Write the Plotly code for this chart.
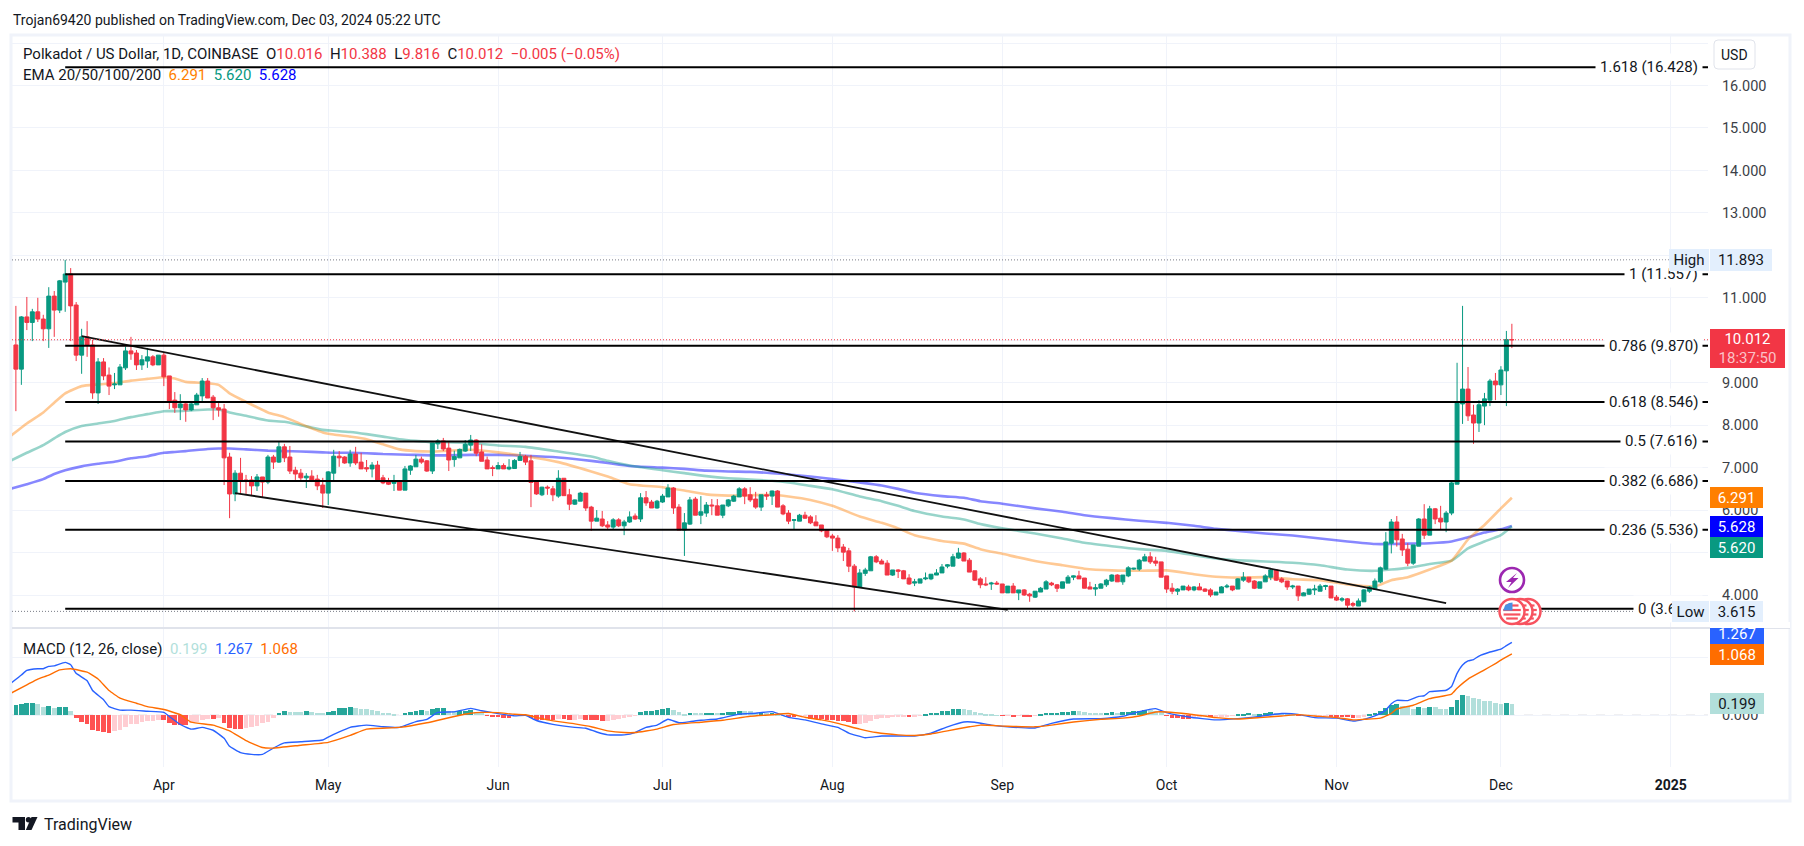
import pandas as pd
import plotly.graph_objects as go

FIRST_DAY = "2024-03-05"
opens = [
 9.89,9.32,10.55,10.42,10.67,10.50,10.27,11.04,10.71,11.37,
 11.56,10.83,9.65,10.08,9.89,8.76,9.49,9.18,8.95,8.95,
 9.35,9.75,9.70,9.42,9.51,9.61,9.42,9.65,9.16,8.59,
 8.41,8.50,8.36,8.48,8.69,9.04,8.66,8.41,8.38,7.25,
 6.38,6.87,6.71,6.71,6.57,6.78,6.66,7.25,7.13,7.49,
 7.25,6.94,6.87,6.76,6.80,6.73,6.59,6.40,6.87,7.27,
 7.25,7.11,7.32,7.13,7.0,6.97,7.06,6.76,6.66,6.63,
 6.66,6.47,6.94,7.02,7.20,7.16,6.92,7.56,7.63,7.46,
 7.19,7.23,7.39,7.53,7.65,7.37,7.18,7.0,6.97,7.05,
 6.97,6.98,7.17,7.26,7.16,6.66,6.36,6.54,6.50,6.33,
 6.75,6.36,6.14,6.21,6.40,6.07,5.74,5.79,5.65,5.60,
 5.77,5.63,5.72,5.86,5.79,6.29,6.19,6.05,6.19,6.31,
 6.52,6.07,5.53,5.67,6.26,5.88,5.93,6.12,6.10,5.88,
 6.10,6.21,6.31,6.50,6.36,6.26,6.07,6.36,6.33,6.45,
 6.10,5.93,5.76,5.74,5.88,5.84,5.72,5.65,5.53,5.39,
 5.34,5.13,5.04,4.68,4.19,4.51,4.57,4.90,4.80,4.75,
 4.47,4.59,
 4.57,4.40,4.28,4.28,4.38,4.38,4.47,4.52,4.68,4.68,
 4.87,4.99,4.82,4.57,4.38,4.26,4.26,4.28,4.26,4.05,
 4.21,4.05,4.12,4.02,3.95,4.07,4.14,4.28,4.24,4.16,
 4.28,4.42,4.45,4.40,4.19,4.14,4.16,4.24,4.33,4.47,
 4.31,4.45,4.61,4.61,4.80,4.90,4.80,4.78,4.45,4.16,
 4.09,4.12,4.19,4.12,4.19,4.14,4.12,4.0,4.05,4.19,
 4.21,4.14,4.35,4.42,4.33,4.16,4.31,4.42,4.59,4.38,
 4.33,4.19,4.21,3.98,4.02,4.12,4.09,4.20,4.21,3.95,
 3.88,3.91,
 3.80,3.74,3.84,4.09,4.14,4.31,4.61,5.22,5.72,5.32,
 5.08,4.75,5.15,5.79,5.41,6.03,5.81,5.72,5.93,6.61,
 8.50,8.85,8.24,8.05,8.45,8.59,9.04,8.95,9.28,10.016,
]
highs = [
 10.81,10.57,11.02,10.74,11.0,10.6,11.25,11.16,11.42,11.893,
 11.70,10.90,10.27,10.45,10.01,9.58,9.58,9.36,9.23,9.44,
 9.85,10.08,9.77,9.65,9.82,9.65,9.65,9.72,9.16,8.78,
 8.73,8.52,8.57,8.76,9.11,9.11,8.71,8.52,8.50,7.35,
 6.94,7.23,6.83,6.80,6.85,6.78,7.30,7.30,7.61,7.56,
 7.51,7.02,6.97,6.87,6.94,6.83,6.76,6.92,7.42,7.39,
 7.27,7.42,7.49,7.35,7.18,7.13,7.16,6.83,6.76,6.83,
 6.69,7.04,7.06,7.30,7.26,7.18,7.58,7.67,7.70,7.60,
 7.40,7.45,7.65,7.77,7.67,7.55,7.26,7.05,7.13,7.10,
 7.20,7.20,7.37,7.30,7.30,6.69,6.55,6.58,6.57,6.94,
 6.75,6.50,6.25,6.43,6.40,6.10,6.0,5.98,5.74,5.81,
 5.81,5.77,5.97,5.92,6.40,6.45,6.24,6.24,6.38,6.61,
 6.54,6.14,5.93,6.31,6.31,6.33,6.19,6.26,6.26,6.12,
 6.26,6.36,6.54,6.54,6.54,6.43,6.36,6.43,6.46,6.47,
 6.14,6.0,5.78,5.91,5.96,5.88,5.88,5.65,5.55,5.44,
 5.41,5.20,5.11,4.73,4.61,4.64,4.92,4.94,4.85,4.82,
 4.59,4.61,
 4.59,4.49,4.38,4.38,4.53,4.49,4.61,4.73,4.73,4.97,
 5.11,5.01,4.87,4.57,4.42,4.42,4.31,4.33,4.26,4.21,
 4.28,4.12,4.14,4.05,4.09,4.19,4.35,4.31,4.26,4.31,
 4.47,4.46,4.57,4.40,4.31,4.26,4.28,4.38,4.49,4.49,
 4.47,4.68,4.64,4.85,4.97,5.01,4.90,4.78,4.45,4.28,
 4.16,4.21,4.24,4.21,4.28,4.16,4.16,4.07,4.21,4.26,
 4.21,4.40,4.54,4.42,4.35,4.31,4.49,4.61,4.61,4.42,
 4.33,4.24,4.21,4.07,4.14,4.24,4.26,4.24,4.21,4.0,
 3.95,3.93,
 3.84,3.92,4.14,4.21,4.39,4.67,5.48,5.79,5.86,5.44,
 5.22,5.18,5.81,6.14,6.10,6.05,6.10,5.98,6.69,9.47,
 10.81,9.37,8.48,8.59,8.76,9.09,9.23,9.39,10.22,10.388,
]
lows = [
 8.33,8.95,10.24,9.98,10.43,9.98,9.82,10.08,10.64,10.67,
 9.98,9.51,9.21,9.61,8.62,8.50,9.06,8.71,8.85,8.95,
 9.30,9.54,9.30,9.30,9.35,9.39,9.42,8.92,8.38,8.29,
 8.12,8.08,8.33,8.48,8.57,8.64,8.12,8.20,6.59,5.81,
 6.21,6.38,6.38,6.33,6.45,6.29,6.61,6.97,7.11,7.13,
 6.85,6.71,6.71,6.52,6.66,6.47,6.05,6.12,6.69,7.02,
 7.09,7.02,7.06,6.97,6.90,6.77,6.71,6.61,6.59,6.45,
 6.47,6.47,6.83,7.02,7.09,6.90,6.85,7.44,7.39,6.92,
 7.02,7.23,7.37,7.39,7.27,7.15,6.97,6.80,6.97,6.97,
 6.94,6.98,7.17,7.06,6.07,6.36,6.33,6.36,6.21,6.29,
 6.34,6.0,6.12,6.21,5.98,5.51,5.74,5.60,5.55,5.55,
 5.60,5.41,5.70,5.77,5.72,6.10,6.05,6.03,6.17,6.31,
 5.91,5.53,4.92,5.65,5.88,5.67,5.84,5.88,5.88,5.81,
 6.07,6.19,6.31,6.14,6.19,6.03,5.98,6.24,6.12,6.07,
 5.88,5.67,5.55,5.74,5.79,5.67,5.63,5.48,5.34,5.04,
 5.01,4.80,4.54,3.615,4.19,4.45,4.57,4.75,4.73,4.47,
 4.45,4.40,
 4.38,4.24,4.21,4.28,4.35,4.35,4.47,4.52,4.63,4.68,
 4.85,4.80,4.54,4.33,4.16,4.21,4.12,4.24,4.05,4.05,
 4.05,3.88,3.98,3.84,3.93,4.07,4.14,4.21,4.07,4.16,
 4.28,4.35,4.38,4.16,4.14,3.98,4.16,4.19,4.31,4.31,
 4.24,4.42,4.59,4.57,4.80,4.73,4.68,4.42,4.05,4.02,
 4.0,4.12,4.09,4.09,4.12,4.07,3.95,4.0,4.05,4.16,
 4.09,4.14,4.31,4.28,4.14,4.16,4.31,4.35,4.33,4.28,
 4.12,4.14,3.86,3.98,4.0,4.0,4.09,4.12,3.93,3.86,
 3.84,3.67,
 3.71,3.74,3.84,4.05,4.12,4.28,4.59,4.98,5.14,4.92,
 4.68,4.71,5.15,5.32,5.41,5.67,5.55,5.48,5.88,6.61,
 8.03,8.10,7.56,7.84,8.0,8.45,8.59,8.71,8.45,9.816,
]
closes = [
 9.32,10.55,10.42,10.67,10.50,10.27,11.04,10.71,11.40,11.56,
 10.81,9.65,10.08,9.89,8.76,9.49,9.16,8.92,8.97,9.37,
 9.75,9.68,9.42,9.54,9.61,9.42,9.65,9.14,8.57,8.41,
 8.50,8.36,8.50,8.71,9.04,8.64,8.41,8.36,7.23,6.38,
 6.87,6.69,6.69,6.57,6.78,6.66,7.25,7.13,7.49,7.23,
 6.92,6.85,6.76,6.80,6.71,6.57,6.40,6.90,7.27,7.23,
 7.11,7.32,7.11,6.97,6.97,7.06,6.71,6.64,6.61,6.69,
 6.47,6.97,7.04,7.20,7.13,6.92,7.58,7.63,7.44,7.18,
 7.26,7.43,7.55,7.65,7.34,7.15,6.97,6.98,7.05,6.97,
 7.01,7.17,7.26,7.13,6.65,6.38,6.54,6.52,6.36,6.75,
 6.34,6.14,6.24,6.40,6.05,5.74,5.81,5.63,5.60,5.77,
 5.63,5.72,5.84,5.79,6.29,6.17,6.05,6.21,6.33,6.52,
 6.05,5.53,5.70,6.24,5.88,5.96,6.12,6.10,5.88,6.12,
 6.24,6.33,6.50,6.33,6.24,6.07,6.36,6.33,6.45,6.07,
 5.91,5.74,5.77,5.88,5.81,5.70,5.63,5.51,5.37,5.34,
 5.11,5.01,4.68,4.19,4.52,4.59,4.90,4.78,4.73,4.47,
 4.59,4.56,
 4.38,4.26,4.31,4.38,4.40,4.49,4.52,4.66,4.71,4.90,
 4.99,4.80,4.54,4.35,4.24,4.24,4.28,4.26,4.05,4.21,
 4.05,4.12,4.0,3.98,4.09,4.16,4.31,4.24,4.16,4.31,
 4.42,4.45,4.38,4.16,4.14,4.17,4.26,4.35,4.47,4.31,
 4.47,4.64,4.63,4.82,4.90,4.78,4.75,4.42,4.14,4.09,
 4.14,4.21,4.12,4.19,4.12,4.09,4.0,4.07,4.19,4.21,
 4.12,4.38,4.42,4.31,4.16,4.31,4.45,4.59,4.35,4.31,
 4.19,4.21,3.98,4.05,4.14,4.14,4.21,4.22,3.93,3.88,
 3.91,3.76,
 3.76,3.86,4.12,4.19,4.33,4.64,5.25,5.72,5.30,5.06,
 4.75,5.18,5.79,5.41,6.03,5.79,5.72,5.93,6.64,8.52,
 8.85,8.22,8.05,8.48,8.62,9.04,8.95,9.30,10.016,10.012,
]
macd_hist = [
 .18,.20,.21,.215,.19,.145,.16,.13,.145,.15,
 .075,-.05,-.12,-.15,-.26,-.27,-.29,-.31,-.27,-.255,
 -.21,-.15,-.15,-.116,-.10,-.10,-.08,-.09,-.13,-.16,
 -.17,-.175,-.13,-.11,-.08,-.06,-.07,-.05,-.14,-.22,
 -.24,-.245,-.22,-.20,-.19,-.14,-.115,-.05,.046,.075,
 .06,.06,.06,.07,.05,.046,.04,.06,.08,.13,
 .135,.145,.13,.11,.11,.09,.075,.046,.04,.02,
 0,.04,.06,.075,.09,.075,.11,.12,.13,.075,
 .07,.075,.08,.09,.05,.035,-.006,-.025,-.03,-.04,
 -.045,-.003,-.002,-.005,-.05,-.08,-.085,-.088,-.09,-.07,
 -.072,-.08,-.078,-.07,-.075,-.08,-.082,-.10,-.098,-.08,
 -.065,-.04,-.02,-.006,.06,.075,.076,.09,.11,.13,
 .09,.06,.02,.04,.04,.035,.04,.042,.04,.042,
 .06,.062,.075,.07,.07,.04,.06,.035,.045,.02,
 .005,-.02,-.035,-.01,-.01,-.065,-.066,-.068,-.08,-.082,
 -.10,-.102,-.116,-.15,-.148,-.13,-.10,-.065,-.045,-.045,
 -.03,-.03,
 -.03,-.032,-.03,-.005,.025,.04,.041,.075,.076,.11,
 .112,.11,.09,.06,.04,.02,.02,.005,-.005,-.002,
 -.03,-.005,-.03,-.032,-.005,.025,.04,.041,.042,.06,
 .061,.075,.074,.06,.04,.04,.04,.042,.06,.04,
 .06,.062,.075,.076,.09,.09,.08,.06,-.006,-.045,
 -.046,-.065,-.066,-.03,-.02,-.01,-.035,-.025,-.025,-.025,
 -.01,.025,.026,.04,.025,.026,.04,.06,.035,.035,
 .015,.005,-.005,-.004,-.002,-.002,-.002,-.002,-.03,-.031,
 -.032,-.033,
 -.045,-.044,-.03,.025,.04,.075,.13,.18,.20,.16,
 .145,.11,.145,.13,.145,.14,.11,.11,.145,.27,
 .35,.335,.30,.285,.25,.25,.215,.20,.215,.199,
]
assert len(opens) == len(highs) == len(lows) == len(closes) == 274, (len(opens), len(highs), len(lows), len(closes))
assert len(macd_hist) == 274, len(macd_hist)

ema_dates = ["03-04","03-07","03-10","03-12","03-14","03-17","03-20","03-23","03-26","03-29","04-01","04-03","04-05","04-09","04-11","04-13","04-16","04-20","04-23","04-26","04-30","05-02","05-05","05-08","05-11","05-14","05-17","05-20","05-23",
 "05-27","06-01","06-06","06-12","06-18","06-21","06-25","07-01","07-05","07-09","07-13","07-17","07-21","07-24","07-28","08-01","08-06","08-10","08-13",
 "08-16","08-21","08-25","08-28","09-01","09-07","09-12","09-16","09-21","09-26","10-01","10-06","10-10","10-14","10-19","10-24","10-29","11-03",
 "11-08","11-11","11-14","11-18","11-22","11-25","11-28","12-01","12-03"]
ema20 = [7.74,8.04,8.30,8.53,8.75,8.92,8.96,8.99,9.05,9.09,9.13,9.10,9.02,8.99,8.95,8.75,8.55,8.30,8.19,8.03,7.83,7.78,7.73,7.67,7.55,7.43,7.39,7.38,7.40,
 7.42,7.36,7.27,7.13,6.91,6.79,6.61,6.54,6.46,6.37,6.34,6.35,6.36,6.32,6.24,6.10,5.85,5.70,5.57,
 5.41,5.27,5.21,5.08,4.97,4.80,4.70,4.62,4.58,4.57,4.58,4.49,4.43,4.41,4.42,4.37,4.35,4.25,
 4.20,4.35,4.42,4.60,4.81,5.31,5.65,6.04,6.291]
ema50 = [7.16,7.35,7.53,7.69,7.84,7.98,8.04,8.10,8.19,8.26,8.33,8.33,8.34,8.37,8.37,8.30,8.22,8.11,8.08,8.0,7.89,7.87,7.84,7.79,7.73,7.67,7.63,7.60,7.60,
 7.58,7.52,7.49,7.38,7.26,7.16,7.05,6.94,6.87,6.80,6.75,6.72,6.69,6.65,6.57,6.49,6.32,6.21,6.10,
 5.98,5.85,5.78,5.67,5.57,5.45,5.33,5.23,5.15,5.08,5.04,4.94,4.86,4.82,4.79,4.76,4.70,4.60,
 4.57,4.60,4.64,4.73,4.81,5.10,5.26,5.41,5.62]
ema200 = [6.50,6.61,6.73,6.85,6.94,7.03,7.09,7.14,7.22,7.27,7.35,7.37,7.39,7.44,7.45,7.45,7.43,7.40,7.39,7.38,7.36,7.35,7.35,7.34,7.32,7.31,7.30,7.29,7.29,
 7.30,7.30,7.28,7.24,7.16,7.11,7.04,7.0,6.97,6.93,6.91,6.90,6.87,6.84,6.79,6.73,6.65,6.58,6.50,
 6.41,6.33,6.29,6.21,6.15,6.04,5.96,5.88,5.81,5.75,5.70,5.63,5.56,5.51,5.45,5.40,5.33,5.26,
 5.20,5.20,5.21,5.22,5.26,5.36,5.47,5.55,5.628]

macd_dates = ["03-04","03-06","03-07","03-09","03-10","03-11","03-12","03-14","03-15","03-16","03-18","03-19","03-21","03-22","03-24","03-26","03-29","04-01","04-02","04-04","04-06","04-08","04-10","04-12","04-13","04-15","04-17","04-19","04-21","04-23","04-26","04-30","05-01","05-03","05-05","05-08","05-11","05-14","05-17","05-19","05-21","05-24","05-27","05-29","06-01","06-04","06-06","06-08","06-11","06-15","06-17","06-19","06-21","06-24","06-26","06-28","06-30","07-02","07-04","07-06","07-08","07-11","07-15","07-18","07-21","07-24","07-27","07-30","08-02","08-04","08-07","08-10","08-13","08-16","08-19","08-22","08-25","08-27","08-30","09-02","09-07","09-10","09-14","09-19","09-23","09-26","09-29","10-01","10-05","10-10","10-14","10-18","10-22","10-25","10-28","11-01","11-04","11-06","11-08","11-10","11-11","11-12","11-14","11-16","11-17","11-18","11-21","11-22","11-23","11-24","11-25","11-26","11-27","11-29","12-01","12-02","12-03"]
macd_line = [.55,.70,.78,.81,.81,.85,.86,.92,.88,.73,.60,.43,.27,.15,.09,.09,.07,.05,-.02,-.16,-.24,-.21,-.26,-.40,-.54,-.65,-.68,-.68,-.57,-.48,-.46,-.43,-.38,-.29,-.21,-.17,-.20,-.21,-.11,-.07,.05,.06,.12,.08,.03,-.01,0,-.09,-.157,-.21,-.226,-.29,-.34,-.34,-.30,-.21,-.17,-.07,-.13,-.11,-.087,-.064,.02,.035,.064,-.035,-.08,-.15,-.21,-.31,-.39,-.36,-.36,-.36,-.31,-.20,-.116,-.12,-.17,-.20,-.22,-.14,-.064,-.058,-.017,.064,.116,.046,-.03,-.08,-.058,-.02,.03,.017,-.04,-.05,-.10,-.07,-.01,.09,.20,.26,.255,.33,.34,.41,.435,.50,.73,.875,.945,.97,1.03,1.10,1.15,1.21,1.267]
signal_dates = ["03-04","03-07","03-09","03-11","03-13","03-15","03-18","03-20","03-22","03-24","03-27","03-29","04-01","04-04","04-06","04-10","04-13","04-16","04-19","04-21","04-26","05-01","05-05","05-08","05-14","05-19","05-24","05-27","05-29","06-01","06-04","06-06","06-10","06-15","06-18","06-21","06-24","06-26","06-30","07-03","07-08","07-12","07-17","07-21","07-24","07-27","07-30","08-02","08-06","08-09","08-13","08-16","08-19","08-22","08-26","08-28","09-02","09-07","09-10","09-14","09-19","09-23","09-26","09-29","10-01","10-05","10-10","10-14","10-18","10-22","10-25","10-28","11-01","11-04","11-06","11-09","11-11","11-12","11-15","11-18","11-22","11-23","11-25","11-28","11-30","12-01","12-03"]
signal_line = [.38,.53,.63,.70,.79,.81,.75,.63,.43,.30,.21,.15,.10,.01,-.12,-.17,-.27,-.44,-.56,-.57,-.52,-.47,-.35,-.24,-.21,-.13,-.02,.035,.05,.046,.017,.01,-.08,-.15,-.20,-.27,-.30,-.30,-.24,-.16,-.12,-.087,-.017,.01,.03,-.035,-.08,-.14,-.24,-.30,-.34,-.35,-.325,-.27,-.20,-.17,-.19,-.20,-.17,-.116,-.07,-.05,-.012,.058,.058,.023,-.04,-.064,-.04,-.012,.012,-.012,-.04,-.08,-.07,-.05,.035,.11,.175,.29,.37,.47,.63,.79,.90,.96,1.068]

fib_ratios = ["1.618","1","0.786","0.618","0.5","0.382","0.236","0"]
fib_prices = [16.428,11.557,9.870,8.546,7.616,6.686,5.536,3.674]
fib_start = "2024-03-14"
upper_dates, upper_prices = ["2024-03-17","2024-11-21"], [10.10,3.81]
lower_dates, lower_prices = ["2024-04-14","2024-09-02"], [6.40,3.65]
month_ticks = ["2024-04-01","2024-05-01","2024-06-01","2024-07-01","2024-08-01","2024-09-01","2024-10-01","2024-11-01","2024-12-01","2025-01-01"]
month_labels = ["Apr","May","Jun","Jul","Aug","Sep","Oct","Nov","Dec","<b>2025</b>"]
price_ticks = [17,16,15,14,13,12,11,10,9,8,7,6,5,4]
price_labels = ["","16.000","15.000","14.000","13.000","","11.000","","9.000","8.000","7.000","6.000","","4.000"]
high_price, low_price, last_price = 11.893, 3.615, 10.012

W, H = 1804, 846
FONT = "Roboto"
INK = "#131722"
GRID = "#f0f3fa"
UP, DOWN = "#089981", "#f23645"
px = lambda v: v / W
py = lambda v: 1 - v / H

days = pd.date_range(FIRST_DAY, periods=len(opens), freq="D")
XR = ["2024-03-04 07:00", "2025-01-07 19:00"]
YR = [3.223, 17.19]
YR2 = [-0.899, 1.518]

hist_colors = []
prev = 0.15
for v in macd_hist:
    if v >= 0:
        hist_colors.append("#26a69a" if v > prev else "#b2dfdb")
    else:
        hist_colors.append("#ff5252" if v < prev else "#ffcdd2")
    prev = v

full = lambda ds: ["2024-" + d for d in ds]
fig = go.Figure()
for vals, col in [(ema200, "rgba(0,0,255,0.47)"), (ema50, "rgba(8,153,129,0.42)"), (ema20, "rgba(255,127,0,0.42)")]:
    fig.add_trace(go.Scatter(x=full(ema_dates), y=vals, mode="lines", xaxis="x", yaxis="y",
                             line=dict(color=col, width=2.6, shape="spline", smoothing=0.5), hoverinfo="skip"))
fig.add_trace(go.Candlestick(x=days, open=opens, high=highs, low=lows, close=closes, xaxis="x", yaxis="y3",
                             increasing=dict(line=dict(color=UP, width=1), fillcolor=UP),
                             decreasing=dict(line=dict(color=DOWN, width=1), fillcolor=DOWN),
                             whiskerwidth=0, hoverinfo="skip"))
for ds, vals in [(upper_dates, upper_prices), (lower_dates, lower_prices)]:
    fig.add_trace(go.Scatter(x=ds, y=vals, mode="lines", xaxis="x", yaxis="y3",
                             line=dict(color="#111111", width=1.8), hoverinfo="skip"))
fig.add_trace(go.Bar(x=days, y=macd_hist, xaxis="x2", yaxis="y2", width=74000000,
                     marker=dict(color=hist_colors, line=dict(width=0)), hoverinfo="skip"))
fig.add_trace(go.Scatter(x=full(macd_dates), y=macd_line, mode="lines", xaxis="x2", yaxis="y2",
                         line=dict(color="#2962ff", width=1.4, shape="spline", smoothing=0.4), hoverinfo="skip"))
fig.add_trace(go.Scatter(x=full(signal_dates), y=signal_line, mode="lines", xaxis="x2", yaxis="y2",
                         line=dict(color="#ff6d00", width=1.4, shape="spline", smoothing=0.4), hoverinfo="skip"))

shapes = []
def rect_px(x0, y0, x1, y1, **kw):
    shapes.append(dict(type="rect", xref="paper", yref="paper", x0=px(x0), x1=px(x1), y0=py(y0), y1=py(y1), **kw))
def line_px(x0, y0, x1, y1, color, width, dash="solid"):
    shapes.append(dict(type="line", xref="paper", yref="paper", x0=px(x0), x1=px(x1), y0=py(y0), y1=py(y1),
                       line=dict(color=color, width=width, dash=dash)))
def circle_px(cx, cy, r, fill, color=None, width=0):
    shapes.append(dict(type="circle", xref="paper", yref="paper", x0=px(cx - r), x1=px(cx + r), y0=py(cy - r), y1=py(cy + r),
                       fillcolor=fill, line=dict(color=color or fill, width=width)))
def poly_px(points, fill):
    path = "M" + " L".join(f"{px(a):.5f},{py(b):.5f}" for a, b in points) + " Z"
    shapes.append(dict(type="path", xref="paper", yref="paper", path=path, fillcolor=fill, line=dict(width=0)))

shapes.append(dict(type="rect", xref="paper", yref="paper", x0=px(11), x1=px(1790), y0=py(35), y1=py(801),
                   line=dict(color=GRID, width=3), layer="below"))
line_px(12, 628, 1790, 628, "#e0e3eb", 2)
# fibonacci levels
for p in fib_prices:
    shapes.append(dict(type="line", xref="x", yref="y", x0=fib_start, x1=XR[1], y0=p, y1=p, line=dict(color="#000000", width=2)))
# high / low / last dotted lines
for p in (high_price, low_price):
    shapes.append(dict(type="line", xref="paper", yref="y", x0=px(12), x1=px(1669), y0=p, y1=p, line=dict(color="#787b86", width=1, dash="1px,2px")))
shapes.append(dict(type="line", xref="paper", yref="y", x0=px(12), x1=px(1710), y0=last_price, y1=last_price, line=dict(color=DOWN, width=1, dash="1px,2px")))
shapes.append(dict(type="line", xref="paper", yref="y2", x0=px(12), x1=px(1708), y0=0, y1=0, line=dict(color="#b2b5be", width=1, dash="dash"), layer="below"))

# event markers
circle_px(1512, 580, 12, "#ffffff", "#9c27b0", 2.6)
poly_px([(1517, 573), (1506, 582), (1511.5, 582), (1508, 588), (1518.5, 578), (1513, 578)], "#9c27b0")
def flag(cx, cy):
    circle_px(cx, cy, 12.5, "#ffffff", "#f7525f", 2.5)
    circle_px(cx, cy, 9, "#ffffff")
    for dy, half in ((-6, 6.5), (-1.5, 8.8), (3, 8.4), (7, 5.8)):
        line_px(cx - half, cy + dy, cx + half, cy + dy, "#f7525f", 2.2)
    poly_px([(cx - 8.8, cy - 1), (cx - 7, cy - 6), (cx - 3, cy - 8.6), (cx + 0.5, cy - 8.9), (cx + 0.5, cy - 1)], "#4a90e2")
for cx in (1528, 1520, 1512):
    flag(cx, 611.5)
# TradingView logo
poly_px([(12.5, 817), (25, 817), (25, 830), (18.5, 830), (18.5, 822.5), (12.5, 822.5)], INK)
circle_px(28.5, 819.8, 2.7, INK)
poly_px([(31.5, 817), (37.5, 817), (31.5, 830), (25.8, 830)], INK)

ann = []
def text(x, y, s, size=14, color=INK, anchor="left", **kw):
    ann.append(dict(xref="paper", yref="paper", x=px(x), y=py(y), text=s, showarrow=False, xanchor=anchor, yanchor="middle",
                    font=dict(family=FONT, size=size, color=color), **kw))
def tag(x0, x1, y0, y1, s, bg, color="#ffffff", size=15):
    ann.append(dict(xref="paper", yref="paper", x=px(x0), y=py((y0 + y1) / 2), text=s, showarrow=False, xanchor="left", yanchor="middle",
                    width=x1 - x0, height=y1 - y0, bgcolor=bg, borderpad=0, borderwidth=0, align="center",
                    font=dict(family=FONT, size=size, color=color)))
sp = "\u00a0"
R = f'<span style="color:{DOWN}">'
text(11, 20, "Trojan69420 published on TradingView.com, Dec 03, 2024 05:22 UTC", 14)
text(21, 54, f"Polkadot / US Dollar, 1D, COINBASE{sp}{sp}O{R}10.016</span>{sp}{sp}H{R}10.388</span>{sp}{sp}L{R}9.816</span>{sp}{sp}C{R}10.012</span>{sp}{sp}{R}\u22120.005 (\u22120.05%)</span>", 15)
text(21, 75, f'EMA 20/50/100/200{sp}{sp}<span style="color:#ff7f00">6.291</span>{sp}{sp}<span style="color:#089981">5.620</span>{sp}{sp}<span style="color:#0000ff">5.628</span>', 15)
text(21, 649, f'MACD (12, 26, close){sp}{sp}<span style="color:#b2dfdb">0.199</span>{sp}{sp}<span style="color:#2962ff">1.267</span>{sp}{sp}<span style="color:#ff6d00">1.068</span>', 15)
text(42, 824, "TradingView", 16)
# fib labels, white plate over the line
for r, p in zip(fib_ratios, fib_prices):
    ann.append(dict(xref="paper", yref="y", x=px(1703), y=p, text=f"{r} ({p:.3f})", showarrow=False, xanchor="right", yanchor="middle",
                    bgcolor="#ffffff", borderpad=4, font=dict(family=FONT, size=15, color=INK)))
tag(1669, 1709, 249, 271, "High", "#e3effd", INK)
tag(1710, 1772, 249, 271, f"{high_price:.3f}", "#e3effd", INK)
tag(1672, 1709, 601, 622, "Low", "#e3effd", INK)
tag(1710, 1763, 601, 622, f"{low_price:.3f}", "#e3effd", INK)
tag(1710, 1785, 329, 368, f'{last_price:.3f}<br><span style="color:#fbc2c8">18:37:50</span>', DOWN)
tag(1710, 1763, 487, 508, "6.291", "#ff7f00")
tag(1710, 1763, 516, 537, "5.628", "#0000ff")
tag(1710, 1763, 537, 558, "5.620", UP)
tag(1710, 1764, 623, 644, "1.267", "#2962ff")
tag(1710, 1764, 644, 665, "1.068", "#ff6d00")
tag(1710, 1764, 693, 714, "0.199", "#b2dfdb", INK)
tag(1710, 1790, 622, 627.5, " ", "#ffffff", size=1)
# currency button
shapes.append(dict(type="path", xref="paper", yref="paper", line=dict(color="#e0e3eb", width=1), fillcolor="#ffffff",
                   path=f"M{px(1718)},{py(40)} L{px(1751)},{py(40)} Q{px(1755)},{py(40)} {px(1755)},{py(44)} L{px(1755)},{py(65)} Q{px(1755)},{py(69)} {px(1751)},{py(69)} L{px(1718)},{py(69)} Q{px(1714)},{py(69)} {px(1714)},{py(65)} L{px(1714)},{py(44)} Q{px(1714)},{py(40)} {px(1718)},{py(40)} Z"))
text(1734.5, 54.5, "USD", 14, anchor="center")

xdom = [px(12), px(1708)]
fig.update_layout(
    width=W, height=H, autosize=False, margin=dict(l=0, r=0, t=0, b=0), showlegend=False,
    paper_bgcolor="#ffffff", plot_bgcolor="#ffffff", bargap=0, boxgap=0.28, boxgroupgap=0,
    font=dict(family=FONT, size=14, color=INK), hovermode=False,
    xaxis=dict(domain=xdom, range=XR, type="date", anchor="y", tickmode="array", tickvals=month_ticks, showticklabels=False,
               showgrid=True, gridcolor=GRID, gridwidth=1, zeroline=False, rangeslider=dict(visible=False), ticks=""),
    xaxis2=dict(domain=xdom, range=XR, type="date", anchor="y2", tickmode="array", tickvals=month_ticks, ticktext=month_labels,
                showgrid=True, gridcolor=GRID, gridwidth=1, zeroline=False, ticks="outside", ticklen=5, tickcolor="rgba(0,0,0,0)",
                tickfont=dict(family=FONT, size=14, color=INK), tickangle=0),
    yaxis=dict(domain=[py(628), py(35)], range=YR, anchor="x", side="right", tickmode="array", tickvals=price_ticks, ticktext=price_labels,
               showgrid=True, gridcolor=GRID, gridwidth=1, zeroline=False, ticks="outside", ticklen=10, tickcolor="rgba(0,0,0,0)",
               tickfont=dict(family=FONT, size=14.5, color="#3c3f47")),
    yaxis3=dict(domain=[py(628), py(35)], range=YR, anchor="x", side="right", overlaying="y", visible=False),
    yaxis2=dict(domain=[py(767), py(628)], range=YR2, anchor="x2", side="right", tickmode="array", tickvals=[0, 1], ticktext=["0.000", "1.000"],
                showgrid=True, gridcolor=GRID, gridwidth=1, zeroline=False, ticks="outside", ticklen=10, tickcolor="rgba(0,0,0,0)",
                tickfont=dict(family=FONT, size=14.5, color="#3c3f47")),
    shapes=shapes, annotations=ann,
)
fig.write_html("out.html", config=dict(displayModeBar=False), post_script="document.body.style.margin='0';document.body.style.overflow='hidden';")
